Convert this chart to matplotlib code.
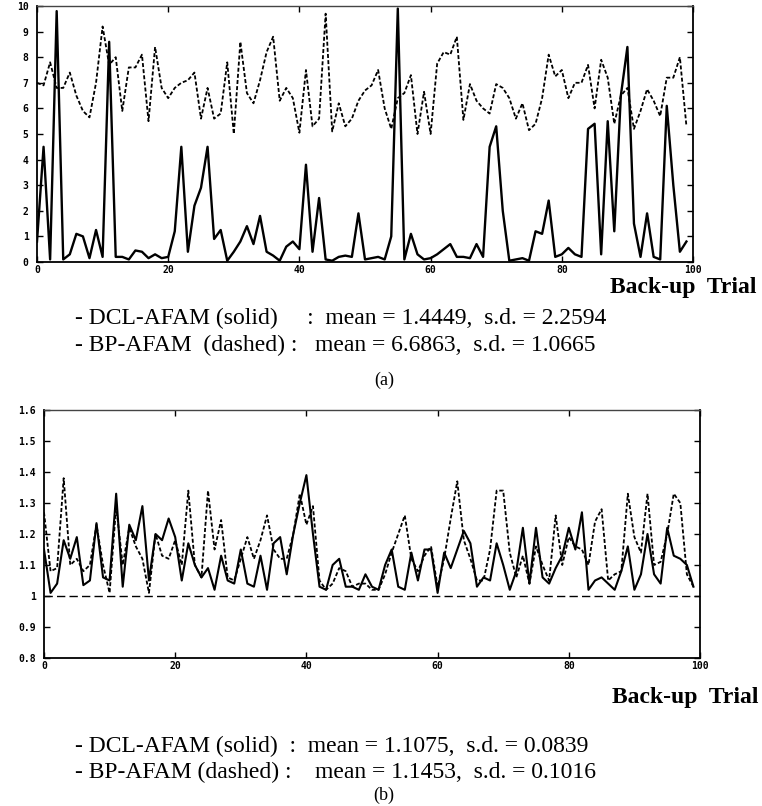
import matplotlib
matplotlib.use('Agg')
import matplotlib.pyplot as plt

trials = list(range(100))

dcl_a = [0.8, 4.5, 0.1, 9.8, 0.1, 0.3, 1.1, 1.0, 0.15, 1.25,
         0.2, 8.6, 0.2, 0.2, 0.1, 0.45, 0.4, 0.15, 0.3, 0.15,
         0.2, 1.2, 4.5, 0.4, 2.2, 2.9, 4.5, 0.9, 1.25, 0.05,
         0.4, 0.8, 1.4, 0.7, 1.8, 0.4, 0.25, 0.05, 0.6, 0.8,
         0.5, 3.8, 0.4, 2.5, 0.1, 0.05, 0.2, 0.25, 0.2, 1.9,
         0.1, 0.15, 0.2, 0.1, 1.0, 9.9, 0.1, 1.1, 0.3, 0.1,
         0.15, 0.3, 0.5, 0.7, 0.2, 0.2, 0.15, 0.7, 0.2, 4.5,
         5.3, 2.0, 0.05, 0.1, 0.15, 0.05, 1.2, 1.1, 2.4, 0.2,
         0.3, 0.55, 0.3, 0.2, 5.2, 5.4, 0.3, 5.5, 1.2, 6.5,
         8.4, 1.5, 0.2, 1.9, 0.2, 0.1, 6.1, 3.0, 0.4, 0.8]

bp_a = [7.0, 6.9, 7.8, 6.8, 6.8, 7.4, 6.5, 5.9, 5.65, 7.0,
        9.2, 7.7, 8.0, 5.9, 7.6, 7.6, 8.1, 5.5, 8.4, 6.8,
        6.4, 6.8, 7.0, 7.1, 7.4, 5.6, 6.8, 5.6, 5.8, 7.8,
        5.0, 8.6, 6.6, 6.2, 7.1, 8.2, 8.8, 6.3, 6.8, 6.4,
        5.05, 7.5, 5.3, 5.6, 9.7, 5.1, 6.2, 5.3, 5.6, 6.3,
        6.7, 6.9, 7.5, 6.0, 5.2, 6.4, 6.6, 7.3, 5.0, 6.65,
        5.0, 7.75, 8.2, 8.1, 8.8, 5.55, 6.95, 6.3, 6.0, 5.8,
        6.95, 6.8, 6.4, 5.6, 6.2, 5.15, 5.4, 6.4, 8.1, 7.25,
        7.5, 6.4, 7.0, 7.0, 7.7, 6.0, 7.9, 7.2, 5.4, 6.5,
        6.8, 5.2, 5.9, 6.75, 6.3, 5.7, 7.2, 7.2, 8.0, 5.3]

dcl_b = [1.15, 1.01, 1.04, 1.18, 1.12, 1.19, 1.035, 1.05, 1.235, 1.06,
         1.05, 1.33, 1.03, 1.23, 1.18, 1.29, 1.05, 1.2, 1.18, 1.25,
         1.19, 1.05, 1.17, 1.10, 1.06, 1.09, 1.02, 1.13, 1.05, 1.04,
         1.15, 1.04, 1.03, 1.13, 1.02, 1.17, 1.19, 1.07, 1.2, 1.3,
         1.39, 1.2, 1.03, 1.02, 1.1, 1.12, 1.03, 1.03, 1.02, 1.07,
         1.03, 1.02, 1.1, 1.15, 1.03, 1.02, 1.14, 1.05, 1.15, 1.15,
         1.01, 1.14, 1.09, 1.15, 1.21, 1.17, 1.03, 1.06, 1.05, 1.17,
         1.1, 1.02, 1.08, 1.22, 1.04, 1.22, 1.06, 1.04, 1.09, 1.13,
         1.22, 1.15, 1.27, 1.02, 1.05, 1.06, 1.04, 1.02, 1.08, 1.16,
         1.02, 1.07, 1.2, 1.07, 1.04, 1.22, 1.13, 1.12, 1.1, 1.03]

bp_b = [1.27, 1.08, 1.09, 1.38, 1.1, 1.12, 1.08, 1.1, 1.23, 1.1,
        1.01, 1.29, 1.1, 1.22, 1.16, 1.12, 1.01, 1.2, 1.13, 1.12,
        1.18, 1.1, 1.34, 1.1, 1.06, 1.34, 1.15, 1.245, 1.06, 1.05,
        1.12, 1.19, 1.12, 1.18, 1.26, 1.15, 1.12, 1.12, 1.2, 1.33,
        1.23, 1.29, 1.05, 1.02, 1.04, 1.09, 1.08, 1.03, 1.04, 1.04,
        1.02, 1.02, 1.07, 1.14, 1.2, 1.26, 1.12, 1.08, 1.13, 1.16,
        1.03, 1.12, 1.25, 1.37, 1.18, 1.12, 1.05, 1.05, 1.15, 1.34,
        1.34, 1.14, 1.06, 1.13, 1.04, 1.16, 1.1, 1.05, 1.26, 1.1,
        1.19, 1.16, 1.15, 1.1, 1.24, 1.28, 1.05, 1.07, 1.08, 1.33,
        1.19, 1.14, 1.33, 1.1, 1.11, 1.2, 1.33, 1.3, 1.07, 1.03]

baseline_b = 1.0

xticks = [0, 20, 40, 60, 80, 100]
yticks_a = list(range(0, 11))
yticks_b = [0.8, 0.9, 1.0, 1.1, 1.2, 1.3, 1.4, 1.5, 1.6]
yticklabels_b = ['0.8', '0.9', '1', '1.1', '1.2', '1.3', '1.4', '1.5', '1.6']

W, H = 762, 806
fig = plt.figure(figsize=(W / 100, H / 100), dpi=100)
fig.patch.set_facecolor('white')


def px_axes(l, t, r, b):
    return fig.add_axes([l / W, 1 - b / H, (r - l) / W, (b - t) / H])


def style(ax):
    for s in ax.spines.values():
        s.set_linewidth(1.3)
        s.set_color('black')
    ax.spines['top'].set_color('#444444')
    ax.spines['top'].set_linewidth(1.0)
    ax.tick_params(direction='in', length=4, width=1, top=True, right=True,
                   colors='black')
    ax.tick_params(axis='y', pad=6)
    ax.tick_params(axis='x', pad=2)
    for lab in ax.get_xticklabels() + ax.get_yticklabels():
        lab.set_fontfamily('DejaVu Sans Mono')
        lab.set_fontweight('bold')
        lab.set_fontsize(7)


serif = 'Liberation Serif'
TXT = 17

# ---------- (a) ----------
ax1 = px_axes(37, 6, 693, 262)
ax1.plot(trials, bp_a, color='black', lw=1.3, linestyle=(0, (2.2, 1.2)))
ax1.plot(trials, dcl_a, color='black', lw=1.7)
ax1.set_xlim(0, 100)
ax1.set_ylim(0, 10)
ax1.set_xticks(xticks)
ax1.set_yticks(yticks_a)
ax1.set_xticklabels([str(v) for v in xticks])
ax1.set_yticklabels([str(v) for v in yticks_a])
style(ax1)

fig.text(756 / W, 1 - 288 / H, 'Back-up  Trial', family=serif, weight='bold',
         size=TXT, ha='right', va='center')
fig.text(75 / W, 1 - 318 / H,
         '- DCL-AFAM (solid)     :  mean = 1.4449,  s.d. = 2.2594',
         family=serif, size=TXT, ha='left', va='center')
fig.text(75 / W, 1 - 345 / H,
         '- BP-AFAM  (dashed) :   mean = 6.6863,  s.d. = 1.0665',
         family=serif, size=TXT, ha='left', va='center')
fig.text(384 / W, 1 - 380 / H, '(a)', family=serif, size=13,
         ha='center', va='center')

# ---------- (b) ----------
ax2 = px_axes(44, 410, 700, 658)
ax2.axhline(baseline_b, color='black', lw=1.0, linestyle=(0, (6, 3)))
ax2.plot(trials, bp_b, color='black', lw=1.3, linestyle=(0, (2.2, 1.2)))
ax2.plot(trials, dcl_b, color='black', lw=1.5)
ax2.set_xlim(0, 100)
ax2.set_ylim(0.8, 1.6)
ax2.set_xticks(xticks)
ax2.set_yticks(yticks_b)
ax2.set_xticklabels([str(v) for v in xticks])
ax2.set_yticklabels(yticklabels_b)
style(ax2)

fig.text(759 / W, 1 - 697 / H, 'Back-up  Trial', family=serif, weight='bold',
         size=TXT, ha='right', va='center')
fig.text(75 / W, 1 - 746 / H,
         '- DCL-AFAM (solid)  :  mean = 1.1075,  s.d. = 0.0839',
         family=serif, size=TXT, ha='left', va='center')
fig.text(75 / W, 1 - 772 / H,
         '- BP-AFAM (dashed) :    mean = 1.1453,  s.d. = 0.1016',
         family=serif, size=TXT, ha='left', va='center')
fig.text(384 / W, 1 - 795 / H, '(b)', family=serif, size=13,
         ha='center', va='center')

fig.savefig('out.png', dpi=100, facecolor='white')
